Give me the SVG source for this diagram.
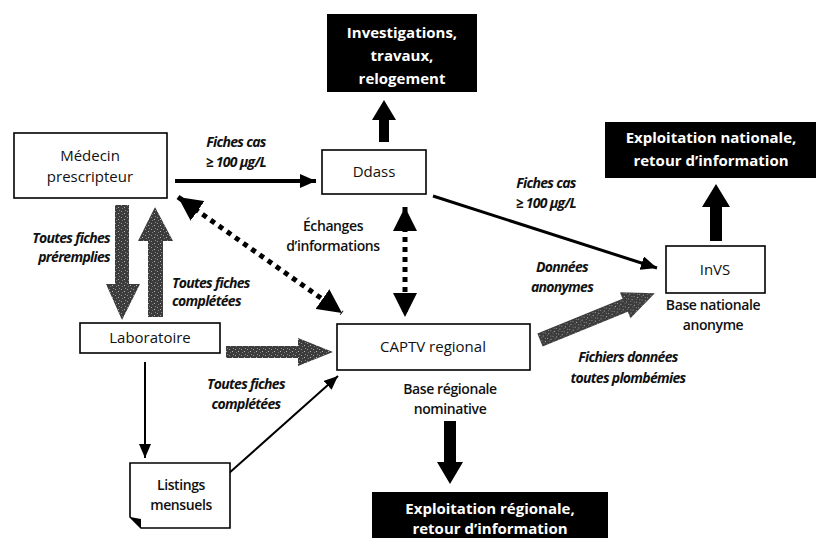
<svg xmlns="http://www.w3.org/2000/svg" width="816" height="538" viewBox="0 0 816 538">
<defs>
<style>
.box{fill:#fff;stroke:#000;stroke-width:1.6}
.dark{fill:#000}
.bt{font-family:"Open Sans","Noto Sans",sans-serif;font-size:15px;font-weight:500;fill:#111;text-anchor:middle}
.wt{font-family:"Open Sans","Noto Sans",sans-serif;font-size:15px;font-weight:700;fill:#fff;text-anchor:middle}
.lb{font-family:"Open Sans","Noto Sans",sans-serif;font-size:14px;font-style:italic;font-weight:700;fill:#111;letter-spacing:-0.7px}
.st{font-family:"Open Sans","Noto Sans",sans-serif;font-size:14px;font-weight:600;fill:#111;text-anchor:middle;letter-spacing:-0.4px}
.ln{fill:none;stroke:#000}
.dot{fill:none;stroke:#000;stroke-width:5;stroke-dasharray:5 5}
.gray{fill:url(#speck)}
</style>
<pattern id="speck" width="6" height="6" patternUnits="userSpaceOnUse">
<rect width="6" height="6" fill="#3c3c3c"/>
<rect x="1" y="1" width="1" height="1" fill="#9a9a9a"/>
<rect x="4" y="3" width="1" height="1" fill="#b5b5b5"/>
<rect x="2" y="4" width="1" height="1" fill="#7a7a7a"/>
<rect x="5" y="0" width="1" height="1" fill="#888"/>
</pattern>
<marker id="ah" viewBox="0 0 16 14" refX="16" refY="7" markerWidth="16" markerHeight="14" markerUnits="userSpaceOnUse" orient="auto">
<path d="M0,0 L16,7 L0,14 z" fill="#000"/>
</marker>
<marker id="ahs" viewBox="0 0 14 12" refX="14" refY="6" markerWidth="14" markerHeight="12" markerUnits="userSpaceOnUse" orient="auto">
<path d="M0,0 L14,6 L0,12 z" fill="#000"/>
</marker>
<marker id="ahd" viewBox="0 0 24 24" refX="24" refY="12" markerWidth="24" markerHeight="24" markerUnits="userSpaceOnUse" orient="auto-start-reverse">
<path d="M0,0 L24,12 L0,24 z" fill="#000"/>
</marker>
</defs>

<g id="connectors">
<!-- Médecin -> Ddass -->
<line class="ln" x1="175" y1="181" x2="316" y2="181" stroke-width="4" marker-end="url(#ah)"/>
<!-- Ddass -> InVS -->
<line class="ln" x1="433" y1="196" x2="657" y2="268" stroke-width="3" marker-end="url(#ah)"/>
<!-- dotted Ddass <-> CAPTV -->
<line class="dot" x1="405" y1="207" x2="405" y2="317" marker-start="url(#ahd)" marker-end="url(#ahd)"/>
<!-- dotted Médecin <-> CAPTV -->
<line class="dot" x1="178" y1="197" x2="342" y2="313" marker-start="url(#ahd)" marker-end="url(#ahd)"/>
<!-- Laboratoire -> Listings -->
<line class="ln" x1="145" y1="362" x2="145" y2="458" stroke-width="2" marker-end="url(#ahs)"/>
<!-- Listings -> CAPTV -->
<line class="ln" x1="228" y1="474" x2="338" y2="376" stroke-width="2" marker-end="url(#ahs)"/>
<!-- Ddass -> Investigations (block) -->
<polygon class="dark" points="379,142 389,142 389,120 396,120 384,100 372,120 379,120"/>
<!-- InVS -> Exploitation nationale (block) -->
<polygon class="dark" points="710,241 722,241 722,207 730,207 716,184 702,207 710,207"/>
<!-- CAPTV -> Exploitation régionale (block) -->
<polygon class="dark" points="444,421 456,421 456,462 463,462 450,484 437,462 444,462"/>
<!-- gray: Médecin -> Laboratoire -->
<polygon class="gray" points="115,205 129,205 129,284 140,284 122,320 106,284 115,284"/>
<!-- gray: Laboratoire -> Médecin -->
<polygon class="gray" points="148,317 163,317 163,241 173,241 155,207 138,241 148,241"/>
<!-- gray: Laboratoire -> CAPTV -->
<polygon class="gray" points="226,346 298,346 298,338 333,352 298,366 298,358 226,358"/>
<!-- gray: CAPTV -> InVS -->
<polygon class="gray" transform="translate(540,340) rotate(-22.2)" points="0,-7 92,-7 92,-14 124,0 92,14 92,7 0,7"/>
</g>

<g id="medecin">
<rect class="box" x="14" y="133" width="153" height="65"/>
<text class="bt" x="90" y="161">Médecin</text>
<text class="bt" x="90" y="182">prescripteur</text>
</g>

<g id="ddass">
<rect class="box" x="322" y="150" width="104" height="44"/>
<text class="bt" x="374" y="177">Ddass</text>
</g>

<g id="investigations">
<rect class="dark" x="327" y="14" width="150" height="78"/>
<text class="wt" x="402" y="38">Investigations,</text>
<text class="wt" x="402" y="61">travaux,</text>
<text class="wt" x="402" y="84">relogement</text>
</g>

<g id="exploitation-nationale">
<rect class="dark" x="605" y="122" width="211" height="56"/>
<text class="wt" x="711" y="143">Exploitation nationale,</text>
<text class="wt" x="711" y="166">retour d’information</text>
</g>

<g id="invs">
<rect class="box" x="666" y="246" width="99" height="47"/>
<text class="bt" x="715" y="275">InVS</text>
<text class="st" x="713" y="310">Base nationale</text>
<text class="st" x="713" y="330">anonyme</text>
</g>

<g id="laboratoire">
<rect class="box" x="80" y="323" width="140" height="30"/>
<text class="bt" x="150" y="343">Laboratoire</text>
</g>

<g id="captv">
<rect class="box" x="337" y="324" width="193" height="46"/>
<text class="bt" x="433" y="352">CAPTV regional</text>
<text class="st" x="450" y="394">Base régionale</text>
<text class="st" x="450" y="414">nominative</text>
</g>

<g id="listings">
<path class="box" d="M130,463 H230 V528 H141 L130,517 Z"/>
<path d="M130,517 L141,528 L141,519 Z" fill="#000"/>
<text class="st" x="181" y="490">Listings</text>
<text class="st" x="181" y="510">mensuels</text>
</g>

<g id="exploitation-regionale">
<rect class="dark" x="372" y="492" width="236" height="46"/>
<text class="wt" x="490" y="514">Exploitation régionale,</text>
<text class="wt" x="490" y="534">retour d’information</text>
</g>

<g id="labels">
<text class="lb" x="236" y="147" text-anchor="middle">Fiches cas</text>
<text class="lb" x="236" y="167" text-anchor="middle">≥ 100 µg/L</text>
<text class="lb" x="546" y="188" text-anchor="middle">Fiches cas</text>
<text class="lb" x="546" y="208" text-anchor="middle">≥ 100 µg/L</text>
<text class="st" x="333" y="231">Échanges</text>
<text class="st" x="333" y="251">d’informations</text>
<text class="lb" x="110" y="243" text-anchor="end">Toutes fiches</text>
<text class="lb" x="110" y="262" text-anchor="end">préremplies</text>
<text class="lb" x="172" y="288">Toutes fiches</text>
<text class="lb" x="172" y="306">complétées</text>
<text class="lb" x="246" y="389" text-anchor="middle">Toutes fiches</text>
<text class="lb" x="246" y="409" text-anchor="middle">complétées</text>
<text class="lb" x="562" y="272" text-anchor="middle">Données</text>
<text class="lb" x="562" y="292" text-anchor="middle">anonymes</text>
<text class="lb" x="628" y="362" text-anchor="middle">Fichiers données</text>
<text class="lb" x="628" y="383" text-anchor="middle">toutes plombémies</text>
</g>
</svg>
